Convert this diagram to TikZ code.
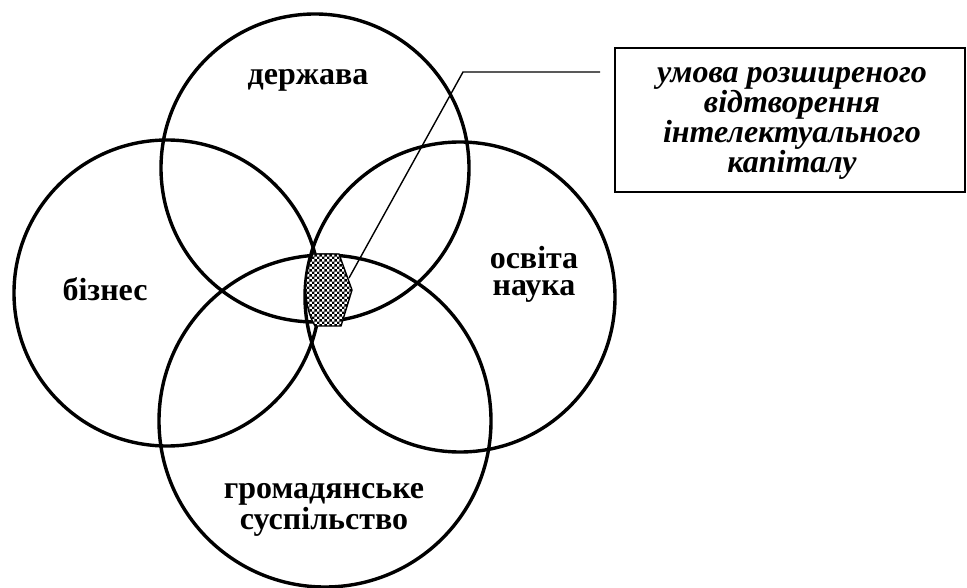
\documentclass[tikz,border=0pt]{standalone}
\usepackage{fontspec}
\setmainfont{Liberation Serif}
\usetikzlibrary{patterns}
\pgfdeclarepatternformonly{mychecker}{\pgfpointorigin}{\pgfqpoint{5.4pt}{5.4pt}}{\pgfqpoint{5.4pt}{5.4pt}}{%
  \pgfpathrectangle{\pgfpointorigin}{\pgfqpoint{2.7pt}{2.7pt}}%
  \pgfpathrectangle{\pgfqpoint{2.7pt}{2.7pt}}{\pgfqpoint{2.7pt}{2.7pt}}%
  \pgfusepath{fill}}
\begin{document}
\begin{tikzpicture}[x=1pt,y=-1pt,
  ring/.style={draw, line width=3.4pt},
  lbl/.style={font=\fontsize{32}{27}\selectfont\bfseries, align=center, inner sep=0pt, anchor=base},
  boxlbl/.style={font=\fontsize{32}{27}\selectfont\bfseries\itshape, align=center, inner sep=0pt, anchor=base},
  frame/.style={draw, line width=2pt, minimum width=350pt, minimum height=144pt, inner sep=0pt},
  leader/.style={draw, line width=1.4pt}]
\useasboundingbox (0,0) rectangle (967,588);
% circles
\draw[ring] (315,168) circle[radius=154pt];
\draw[ring] (167,293) circle[radius=153pt];
\draw[ring] (460,297) circle[radius=155pt];
\draw[ring] (325,421) circle[radius=166pt];
% shaded intersection
\draw[line width=1.4pt, fill=white, postaction={pattern=mychecker}]
  (313,254) -- (339,254) -- (352,290) -- (341,326) -- (315,326)
  .. controls (303,306) and (303,274) .. (313,254) -- cycle;
% labels
\node[lbl] (gov) at (308,85) {держава};
\node[lbl] (bus) at (105,301) {бізнес};
\node[lbl] (edu) at (534,295) {освіта\\наука};
\node[lbl, font=\fontsize{32}{21}\selectfont\bfseries] (civ) at (324,529) {громадянське\\суспільство};
% box
\node[frame] (box) at (790,120) {};
\node[boxlbl] (boxtext) at (792,173) {умова розширеного\\відтворення\\інтелектуального\\капіталу};
% leader
\coordinate (p) at (349,278);
\coordinate (k) at (463,72);
\coordinate (e) at (600,72);
\draw[leader] (p) -- (k) -- (e);
\end{tikzpicture}
\end{document}
